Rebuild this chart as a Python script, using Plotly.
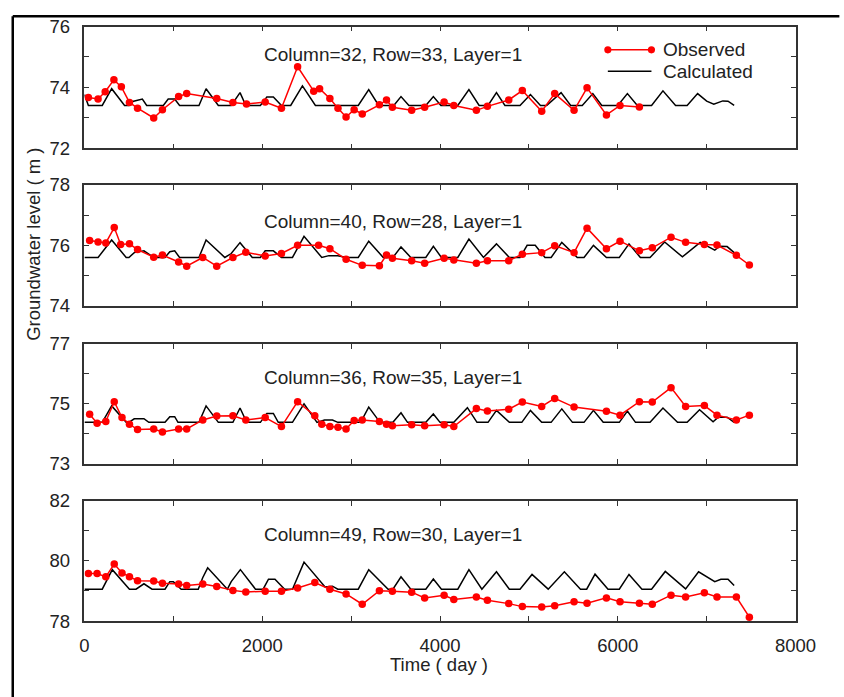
import plotly.graph_objects as go

# ---------------- data ----------------
panel_labels = ["Column=32, Row=33, Layer=1", "Column=40, Row=28, Layer=1",
                "Column=36, Row=35, Layer=1", "Column=49, Row=30, Layer=1"]
y_ranges = [(72, 76), (74, 78), (73, 77), (78, 82)]
x_ticks = [0, 2000, 4000, 6000, 8000]
series_names = ["Observed", "Calculated"]

obs_t1 = [44, 153, 233, 331, 415, 506, 597, 779, 877, 1059, 1150, 1488, 1670, 1823, 2033, 2216,
          2398, 2579, 2645, 2761, 2852, 2943, 3034, 3125, 3318, 3398, 3464, 3681, 3827, 4046, 4155,
          4409, 4533, 4773, 4926, 5144, 5290, 5508, 5654, 5872, 6025, 6243]
obs_v1 = [73.67, 73.62, 73.86, 74.25, 74.02, 73.51, 73.32, 73.00, 73.27, 73.70, 73.80, 73.64, 73.51,
          73.46, 73.52, 73.32, 74.68, 73.88, 73.96, 73.64, 73.32, 73.03, 73.27, 73.13, 73.43, 73.59,
          73.35, 73.25, 73.35, 73.52, 73.41, 73.25, 73.38, 73.59, 73.90, 73.22, 73.80, 73.25, 73.99,
          73.10, 73.41, 73.36]
calc_t1 = [0, 44, 200, 306, 451, 500, 542, 651, 700, 887, 942, 1015, 1070, 1288, 1368, 1506, 1651,
           1750, 1815, 1979, 2052, 2125, 2216, 2320, 2452, 2598, 3080, 3198, 3310, 3480, 3561, 3650,
           3840, 3925, 4010, 4200, 4325, 4440, 4540, 4635, 4730, 4900, 5017, 5130, 5200, 5362, 5470,
           5600, 5719, 5820, 6000, 6108, 6220, 6380, 6508, 6650, 6780, 6898, 7000, 7080, 7181, 7240, 7309]
calc_v1 = [73.77, 73.41, 73.41, 73.96, 73.41, 73.41, 73.54, 73.62, 73.41, 73.41, 73.62, 73.62, 73.41,
           73.41, 73.96, 73.41, 73.41, 73.83, 73.41, 73.41, 73.69, 73.69, 73.41, 73.41, 74.05, 73.41,
           73.41, 73.93, 73.41, 73.41, 73.70, 73.41, 73.41, 73.70, 73.41, 73.41, 73.93, 73.41, 73.41,
           73.83, 73.41, 73.41, 73.77, 73.41, 73.41, 73.83, 73.41, 73.41, 73.80, 73.41, 73.41, 73.80,
           73.41, 73.41, 73.89, 73.41, 73.41, 73.80, 73.55, 73.45, 73.56, 73.55, 73.41]

obs_t2 = [58, 153, 240, 335, 407, 506, 597, 779, 877, 1059, 1150, 1331, 1488, 1670, 1815, 2033, 2216,
          2398, 2634, 2761, 2943, 3125, 3318, 3398, 3464, 3681, 3827, 4046, 4155, 4409, 4533, 4773,
          4926, 5144, 5290, 5508, 5654, 5872, 6025, 6243, 6388, 6599, 6763, 6974, 7116, 7334, 7480]
obs_v2 = [76.16, 76.11, 76.08, 76.59, 76.03, 76.05, 75.86, 75.61, 75.68, 75.45, 75.31, 75.60, 75.31,
          75.60, 75.77, 75.65, 75.73, 76.00, 76.00, 75.89, 75.54, 75.34, 75.33, 75.68, 75.57, 75.49,
          75.41, 75.57, 75.52, 75.41, 75.49, 75.49, 75.71, 75.76, 75.99, 75.76, 76.57, 75.89, 76.14,
          75.82, 75.92, 76.27, 76.10, 76.03, 76.01, 75.67, 75.35]
calc_t2 = [0, 153, 306, 469, 500, 560, 669, 779, 906, 960, 1015, 1070, 1288, 1368, 1579, 1651, 1750,
           1888, 1979, 2033, 2125, 2216, 2340, 2470, 2670, 2750, 2850, 2950, 3080, 3198, 3361, 3470,
           3561, 3671, 3840, 3925, 4016, 4200, 4325, 4489, 4635, 4780, 4900, 4980, 5071, 5181, 5250,
           5370, 5544, 5620, 5726, 5872, 6017, 6126, 6254, 6363, 6527, 6727, 6927, 7091, 7145, 7230, 7309]
calc_v2 = [75.60, 75.60, 76.18, 75.60, 75.60, 75.76, 75.82, 75.60, 75.60, 75.79, 75.82, 75.60, 75.60,
           76.18, 75.60, 75.73, 76.09, 75.60, 75.60, 75.82, 75.82, 75.60, 75.60, 76.30, 75.60, 75.66,
           75.66, 75.60, 75.60, 76.14, 75.60, 75.60, 75.95, 75.60, 75.60, 75.97, 75.60, 75.60, 76.21,
           75.60, 76.05, 75.60, 75.60, 76.00, 76.00, 75.60, 75.60, 76.10, 75.60, 75.60, 76.00, 75.60,
           75.60, 76.05, 75.60, 75.60, 76.11, 75.62, 76.10, 75.84, 75.97, 75.96, 75.76]

obs_t3 = [58, 142, 240, 335, 422, 506, 597, 779, 877, 1059, 1150, 1331, 1488, 1670, 1815, 2033, 2216,
          2398, 2591, 2670, 2761, 2852, 2943, 3034, 3125, 3318, 3398, 3464, 3681, 3827, 4046, 4155,
          4409, 4533, 4773, 4926, 5144, 5290, 5508, 5872, 6025, 6243, 6388, 6599, 6763, 6974, 7116,
          7334, 7480]
obs_v3 = [74.65, 74.35, 74.41, 75.07, 74.54, 74.32, 74.14, 74.16, 74.06, 74.16, 74.16, 74.46, 74.59,
          74.60, 74.46, 74.54, 74.24, 75.07, 74.60, 74.32, 74.24, 74.22, 74.16, 74.44, 74.46, 74.41,
          74.32, 74.27, 74.30, 74.27, 74.30, 74.24, 74.84, 74.76, 74.82, 75.06, 74.91, 75.18, 74.89,
          74.75, 74.62, 75.07, 75.06, 75.54, 74.91, 74.94, 74.62, 74.46, 74.62]
calc_t3 = [0, 200, 306, 469, 500, 560, 669, 724, 906, 960, 1015, 1052, 1288, 1368, 1506, 1670, 1750,
           1825, 1979, 2052, 2125, 2180, 2340, 2470, 2616, 2700, 2790, 2850, 3107, 3198, 3325, 3470,
           3561, 3634, 3840, 3925, 4000, 4155, 4308, 4416, 4540, 4635, 4780, 4920, 5017, 5144, 5250,
           5370, 5490, 5620, 5726, 5836, 6017, 6108, 6199, 6363, 6508, 6672, 6780, 6920, 7072, 7130,
           7230, 7309]
calc_v3 = [74.38, 74.38, 74.93, 74.38, 74.38, 74.50, 74.50, 74.38, 74.38, 74.57, 74.57, 74.38, 74.38,
           74.93, 74.38, 74.38, 74.86, 74.38, 74.38, 74.68, 74.68, 74.38, 74.38, 75.00, 74.38, 74.46,
           74.46, 74.38, 74.38, 74.89, 74.38, 74.38, 74.70, 74.38, 74.38, 74.66, 74.38, 74.38, 74.87,
           74.38, 74.38, 74.78, 74.38, 74.38, 74.78, 74.38, 74.38, 74.83, 74.38, 74.38, 74.78, 74.38,
           74.38, 74.76, 74.38, 74.38, 74.86, 74.38, 74.38, 74.80, 74.40, 74.55, 74.55, 74.38]

obs_t4 = [44, 142, 240, 335, 422, 506, 597, 779, 877, 1059, 1150, 1331, 1488, 1670, 1815, 2033, 2216,
          2398, 2591, 2761, 2943, 3125, 3318, 3464, 3681, 3827, 4046, 4155, 4409, 4533, 4773, 4926,
          5144, 5290, 5508, 5654, 5872, 6025, 6243, 6388, 6599, 6763, 6974, 7116, 7334, 7480]
obs_v4 = [79.58, 79.58, 79.47, 79.90, 79.60, 79.47, 79.34, 79.33, 79.26, 79.23, 79.18, 79.23, 79.15,
          79.02, 78.97, 78.99, 78.99, 79.10, 79.28, 79.06, 78.90, 78.56, 79.01, 78.99, 78.96, 78.77,
          78.86, 78.72, 78.80, 78.69, 78.58, 78.48, 78.47, 78.51, 78.64, 78.59, 78.77, 78.64, 78.59,
          78.56, 78.86, 78.80, 78.94, 78.80, 78.80, 78.13]
calc_t4 = [0, 200, 313, 506, 580, 669, 760, 906, 960, 1000, 1088, 1280, 1330, 1386, 1608, 1651, 1754,
           1924, 2010, 2070, 2143, 2252, 2340, 2470, 2707, 2790, 2850, 3080, 3198, 3416, 3470, 3561,
           3671, 3840, 3925, 4016, 4200, 4325, 4471, 4635, 4780, 4900, 5035, 5217, 5399, 5580, 5650,
           5744, 5890, 6017, 6126, 6272, 6380, 6534, 6763, 6909, 7091, 7160, 7240, 7309]
calc_v4 = [79.06, 79.06, 79.71, 79.06, 79.06, 79.24, 79.06, 79.06, 79.31, 79.31, 79.06, 79.06, 79.44,
           79.77, 79.06, 79.31, 79.71, 79.06, 79.06, 79.39, 79.39, 79.06, 79.06, 79.96, 79.13, 79.16,
           79.06, 79.06, 79.71, 79.06, 79.06, 79.47, 79.06, 79.06, 79.40, 79.06, 79.06, 79.71, 79.06,
           79.64, 79.06, 79.06, 79.55, 79.06, 79.64, 79.06, 79.06, 79.56, 79.06, 79.06, 79.55, 79.06,
           79.06, 79.65, 79.07, 79.64, 79.31, 79.39, 79.39, 79.18]

obs_t = [obs_t1, obs_t2, obs_t3, obs_t4]
obs_v = [obs_v1, obs_v2, obs_v3, obs_v4]
calc_t = [calc_t1, calc_t2, calc_t3, calc_t4]
calc_v = [calc_v1, calc_v2, calc_v3, calc_v4]

# ---------------- layout helpers ----------------
W, H = 844, 697
def fx(p): return p / W
def fy(p): return 1 - p / H

x_left, x_right = 82, 815.7
panel_px = [(16, 141.7), (179.3, 304), (343.3, 466.7), (505, 629)]
label_y = [45, 216.7, 378.3, 540]

FONT = "Arial, Liberation Sans, sans-serif"
TXT = "#222222"
AXC = "#333333"
RED = "#ff0000"

fig = go.Figure()
for i in range(4):
    xa = "x" if i == 0 else f"x{i+1}"
    ya = "y" if i == 0 else f"y{i+1}"
    fig.add_trace(go.Scatter(x=calc_t[i], y=calc_v[i], mode="lines",
                             line=dict(color="black", width=1.5),
                             name=series_names[1], showlegend=False,
                             xaxis=xa, yaxis=ya))
    fig.add_trace(go.Scatter(x=obs_t[i], y=obs_v[i], mode="lines+markers",
                             line=dict(color=RED, width=1.5),
                             marker=dict(color=RED, size=7.5),
                             name=series_names[0], showlegend=False,
                             xaxis=xa, yaxis=ya))

layout = dict(
    width=W, height=H,
    margin=dict(l=0, r=0, t=0, b=0),
    paper_bgcolor="white", plot_bgcolor="white",
    font=dict(family=FONT, size=18.5, color=TXT),
    showlegend=False,
)
for i in range(4):
    xk = "xaxis" if i == 0 else f"xaxis{i+1}"
    yk = "yaxis" if i == 0 else f"yaxis{i+1}"
    top, bot = panel_px[i]
    lo, hi = y_ranges[i]
    layout[xk] = dict(
        domain=[fx(x_left), fx(x_right)], range=[0, 8000],
        anchor="y" if i == 0 else f"y{i+1}",
        tickvals=x_ticks, ticktext=[str(v) for v in x_ticks],
        showticklabels=(i == 3), ticks="inside", ticklen=5, tickwidth=1.2, tickcolor=AXC,
        minor=dict(dtick=1000, tick0=0, ticks="inside", ticklen=5, tickwidth=1.2, tickcolor=AXC),
        showline=True, linecolor=AXC, linewidth=1.5, mirror="ticks",
        showgrid=False, zeroline=False, ticklabelstandoff=7,
        tickfont=dict(size=18.5, color=TXT),
    )
    layout[yk] = dict(
        domain=[fy(bot), fy(top)], range=[lo, hi],
        anchor="x" if i == 0 else f"x{i+1}",
        tick0=lo, dtick=2, ticks="inside", ticklen=5, tickwidth=1.2, tickcolor=AXC,
        minor=dict(dtick=1, tick0=lo, ticks="inside", ticklen=5, tickwidth=1.2, tickcolor=AXC),
        showline=True, linecolor=AXC, linewidth=1.5, mirror="ticks",
        showgrid=False, zeroline=False, ticklabelstandoff=9,
        tickfont=dict(size=18.5, color=TXT),
    )
fig.update_layout(**layout)

annotations = []
for i in range(4):
    annotations.append(dict(text=panel_labels[i], xref="paper", yref="paper",
                            x=fx(265), y=fy(label_y[i]), xanchor="left", yanchor="middle",
                            showarrow=False, font=dict(size=19, color=TXT)))
annotations.append(dict(text="Groundwater level ( m )", xref="paper", yref="paper",
                        x=fx(30), y=fy(241), textangle=-90, xanchor="center", yanchor="middle",
                        showarrow=False, font=dict(size=18.5, color=TXT)))
annotations.append(dict(text="Time ( day )", xref="paper", yref="paper",
                        x=fx(448), y=fy(674), xanchor="center", yanchor="middle",
                        showarrow=False, font=dict(size=18.5, color=TXT)))
# legend texts
legend_y = [40, 62]
for name, ly in zip(series_names, legend_y):
    annotations.append(dict(text=name, xref="paper", yref="paper",
                            x=fx(677), y=fy(ly), xanchor="left", yanchor="middle",
                            showarrow=False, font=dict(size=19, color=TXT)))
fig.update_layout(annotations=annotations)

shapes = [
    dict(type="line", xref="paper", yref="paper", x0=fx(8), x1=fx(8), y0=-0.02, y1=fy(5.5),
         line=dict(color="black", width=2.5)),
    dict(type="line", xref="paper", yref="paper", x0=fx(8), x1=1.02, y0=fy(5.5), y1=fy(5.5),
         line=dict(color="black", width=2.5)),
    # legend samples
    dict(type="line", xref="paper", yref="paper", x0=fx(622), x1=fx(667), y0=fy(40), y1=fy(40),
         line=dict(color=RED, width=1.5)),
    dict(type="line", xref="paper", yref="paper", x0=fx(622), x1=fx(667), y0=fy(62), y1=fy(62),
         line=dict(color="black", width=1.5)),
]
for cx in (622, 667):
    shapes.append(dict(type="circle", xref="paper", yref="paper",
                       x0=fx(cx - 3.7), x1=fx(cx + 3.7), y0=fy(40 + 3.7), y1=fy(40 - 3.7),
                       fillcolor=RED, line=dict(color=RED, width=0)))
fig.update_layout(shapes=shapes)

fig.write_html("out.html")
